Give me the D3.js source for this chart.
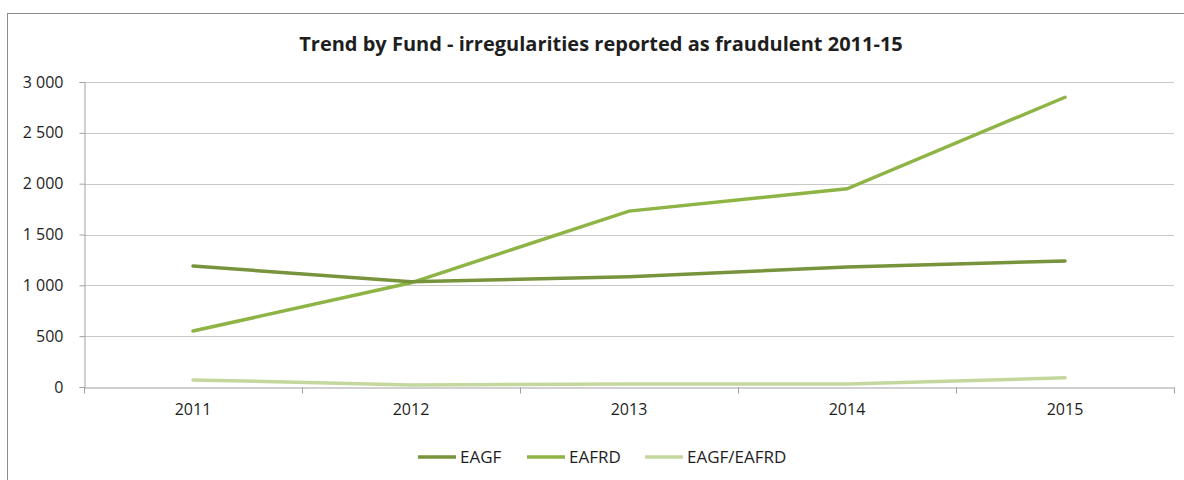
<!DOCTYPE html>
<html>
<head>
<meta charset="utf-8">
<script src="https://cdn.jsdelivr.net/npm/d3@7"></script>
<style>
  body{margin:0;background:#fff;}
  text{font-family:"Open Sans","Liberation Sans",sans-serif;fill:#1e1e1e;}
</style>
</head>
<body>
<script>
'use strict';

var years=['2011','2012','2013','2014','2015'];
var eagf=[1190,1035,1085,1180,1240];
var eafrd=[550,1025,1730,1950,2850];
var mixed=[70,20,30,30,90];
var yTicks=[0,500,1000,1500,2000,2500,3000];

var series=[
    {name:'EAGF',values:eagf,color:'#77933c'}
  , {name:'EAFRD',values:eafrd,color:'#8fb446'}
  , {name:'EAGF/EAFRD',values:mixed,color:'#c4d89e'}
];

var W=1184, H=480
  , m={left:84,right:10,top:82,bottom:93};

var svg=d3.select('body').append('svg')
    .attr('width',W)
    .attr('height',H);

// outer frame
svg.append('rect')
    .attr('x',7.5)
    .attr('y',13.5)
    .attr('width',W)
    .attr('height',H)
    .attr('fill','none')
    .attr('stroke','#8c8c8c');

svg.append('text')
    .attr('x',601)
    .attr('y',51)
    .attr('text-anchor','middle')
    .style('font-size','20px')
    .style('font-weight','bold')
    .text('Trend by Fund - irregularities reported as fraudulent 2011-15');

var x=d3.scaleBand()
    .domain(years)
    .range([m.left,W-m.right]);

var y=d3.scaleLinear()
    .domain([0,3000])
    .range([H-m.bottom,m.top]);

var fmt=function(d){return d3.format(',')(d).replace(/,/g,' ');};

// gridlines
svg.append('g')
    .selectAll('line')
    .data(yTicks.filter(function(d){return d>0;}))
    .join('line')
    .attr('x1',m.left)
    .attr('x2',W-m.right)
    .attr('y1',function(d){return Math.round(y(d))+0.5;})
    .attr('y2',function(d){return Math.round(y(d))+0.5;})
    .attr('stroke','#c8c8c8')
    .attr('stroke-width',1.2);

// y axis
var ya=svg.append('g')
    .attr('transform','translate('+(m.left+0.5)+',0)')
    .call(d3.axisLeft(y).tickValues(yTicks).tickFormat(fmt).tickSize(5).tickPadding(16));
ya.select('.domain').attr('stroke','#a0a0a0');
ya.selectAll('.tick line').attr('stroke','#a0a0a0');
ya.selectAll('.tick text').style('font-size','16px').attr('fill','#1e1e1e');

// x axis
var xa=svg.append('g')
    .attr('transform','translate(0,'+(Math.round(y(0))+0.5)+')')
    .call(d3.axisBottom(x).tickSize(0).tickPadding(16));
xa.select('.domain').attr('stroke','#a0a0a0');
xa.selectAll('.tick text').style('font-size','16px').attr('fill','#1e1e1e');
xa.selectAll('line.sep')
    .data(years.concat(['end']))
    .join('line')
    .attr('class','sep')
    .attr('x1',function(d,i){return (i<years.length?x(d):x.range()[1])+0.5;})
    .attr('x2',function(d,i){return (i<years.length?x(d):x.range()[1])+0.5;})
    .attr('y1',0)
    .attr('y2',6)
    .attr('stroke','#a0a0a0');

var line=d3.line()
    .x(function(d,i){return x(years[i])+x.bandwidth()/2;})
    .y(function(d){return y(d);});

svg.append('g')
    .selectAll('path')
    .data(series.slice().reverse())
    .join('path')
    .attr('d',function(s){return line(s.values);})
    .attr('fill','none')
    .attr('stroke',function(s){return s.color;})
    .attr('stroke-width',3.5)
    .attr('stroke-linecap','round');

// legend
var legX=[418,527,645];
var leg=svg.append('g')
    .selectAll('g')
    .data(series)
    .join('g')
    .attr('transform',function(s,i){return 'translate('+legX[i]+',457)';});
leg.append('line')
    .attr('x1',0).attr('x2',38)
    .attr('stroke',function(s){return s.color;})
    .attr('stroke-width',3.5);
leg.append('text')
    .attr('x',42)
    .attr('dy','0.35em')
    .style('font-size','17px')
    .text(function(s){return s.name;});
</script>
</body>
</html>
